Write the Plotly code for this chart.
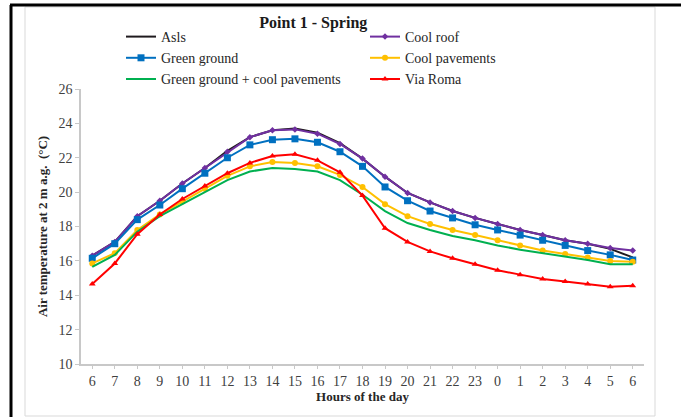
import plotly.graph_objects as go

hours = [6, 7, 8, 9, 10, 11, 12, 13, 14, 15, 16, 17, 18, 19, 20, 21, 22, 23, 0, 1, 2, 3, 4, 5, 6]

asls = [16.3, 17.1, 18.6, 19.5, 20.5, 21.4, 22.4, 23.2, 23.6, 23.7, 23.45, 22.85, 21.95, 20.9, 19.95, 19.4, 18.9, 18.5, 18.15, 17.8, 17.5, 17.2, 17.0, 16.7, 16.2]
cool_roof = [16.3, 17.1, 18.6, 19.5, 20.5, 21.4, 22.35, 23.2, 23.6, 23.65, 23.4, 22.8, 21.95, 20.9, 19.95, 19.4, 18.9, 18.5, 18.15, 17.8, 17.5, 17.2, 17.0, 16.75, 16.6]
green_ground = [16.15, 17.0, 18.4, 19.25, 20.2, 21.1, 22.0, 22.75, 23.05, 23.1, 22.9, 22.35, 21.5, 20.3, 19.5, 18.9, 18.5, 18.1, 17.8, 17.5, 17.2, 16.9, 16.6, 16.35, 16.05]
cool_pavements = [15.85, 16.45, 17.8, 18.7, 19.45, 20.2, 20.95, 21.5, 21.75, 21.7, 21.5, 21.0, 20.3, 19.3, 18.6, 18.15, 17.8, 17.5, 17.2, 16.9, 16.6, 16.4, 16.2, 16.0, 15.95]
green_cool = [15.65, 16.35, 17.7, 18.6, 19.3, 20.0, 20.7, 21.2, 21.4, 21.35, 21.2, 20.7, 19.85, 18.9, 18.2, 17.8, 17.45, 17.2, 16.9, 16.65, 16.45, 16.25, 16.05, 15.8, 15.8]
via_roma = [14.65, 15.85, 17.55, 18.7, 19.6, 20.35, 21.1, 21.7, 22.1, 22.2, 21.85, 21.15, 19.8, 17.9, 17.1, 16.55, 16.15, 15.8, 15.45, 15.2, 14.95, 14.8, 14.65, 14.5, 14.55]

y_ticks = [10, 12, 14, 16, 18, 20, 22, 24, 26]

xs = list(range(len(hours)))
FONT = "Liberation Serif"

fig = go.Figure()

def add(name, ys, color, symbol=None, size=6, legend="legend"):
    mode = "lines+markers" if symbol else "lines"
    fig.add_trace(go.Scatter(
        x=xs, y=ys, name=name, mode=mode,
        line=dict(color=color, width=2),
        marker=dict(symbol=symbol or "circle", size=size, color=color),
        legend=legend,
    ))

add("Asls", asls, "#1f1a1e", None, legend="legend")
add("Cool roof", cool_roof, "#7030a0", "diamond", 5, legend="legend2")
add("Green ground", green_ground, "#0070c0", "square", 7, legend="legend")
add("Cool pavements", cool_pavements, "#ffc000", "circle", 6, legend="legend2")
add("Green ground + cool pavements", green_cool, "#00b050", None, legend="legend")
add("Via Roma", via_roma, "#ff0000", "triangle-up", 6, legend="legend2")

L, R, T, B = 81, 37, 89, 53
W, H = 681, 417
pw = W - L - R
ph = H - T - B

def px_x(p):
    return (p - L) / pw

def px_y(p):
    return 1 - (p - T) / ph

legend_common = dict(
    orientation="v", xanchor="left", yanchor="middle",
    font=dict(family=FONT, size=14, color="#262626"),
    bgcolor="rgba(0,0,0,0)", tracegroupgap=0, itemwidth=30,
)

fig.update_layout(
    width=W, height=H,
    margin=dict(l=L, r=R, t=T, b=B),
    paper_bgcolor="white", plot_bgcolor="white",
    title=dict(text="<b>Point 1 - Spring</b>", x=px_x(340), xanchor="center",
               y=1 - 22 / H, yanchor="middle",
               font=dict(family=FONT, size=16, color="#1a1a1a")),
    legend=dict(x=px_x(121), y=px_y(58), **legend_common),
    legend2=dict(x=px_x(365), y=px_y(58), **legend_common),
    showlegend=True,
)

fig.update_xaxes(
    range=[-0.5, len(hours) - 0.5],
    tickmode="array", tickvals=xs, ticktext=[str(h) for h in hours],
    showgrid=False, zeroline=False,
    showline=True, linecolor="#c8c8c8", linewidth=1.5,
    ticks="outside", ticklen=3, tickcolor="#c8c8c8",
    tickfont=dict(family=FONT, size=14, color="#404040"),
    title=dict(text="<b>Hours of the day</b>", standoff=3,
               font=dict(family=FONT, size=13, color="#262626")),
)
fig.update_yaxes(
    range=[10, 26], tickmode="array", tickvals=y_ticks,
    showgrid=False, zeroline=False,
    showline=True, linecolor="#c8c8c8", linewidth=1.5,
    ticks="outside", ticklen=4, tickcolor="#c8c8c8",
    tickfont=dict(family=FONT, size=14, color="#404040"),
    title=dict(text="<b>Air temperature at 2 m a.g.  (°C)</b>", standoff=8,
               font=dict(family=FONT, size=13, color="#262626")),
)

# light chart-area border
fig.add_shape(type="rect", xref="paper", yref="paper",
              x0=px_x(25), x1=px_x(655), y0=px_y(416), y1=px_y(7),
              line=dict(color="#d9d9d9", width=1), fillcolor="rgba(0,0,0,0)", layer="below")
# black frame lines (top and left)
fig.add_shape(type="line", xref="paper", yref="paper",
              x0=px_x(10), x1=px_x(681), y0=px_y(5), y1=px_y(5),
              line=dict(color="black", width=3))
fig.add_shape(type="line", xref="paper", yref="paper",
              x0=px_x(11), x1=px_x(11), y0=px_y(5), y1=px_y(417),
              line=dict(color="black", width=3))

fig.write_html("out.html")
